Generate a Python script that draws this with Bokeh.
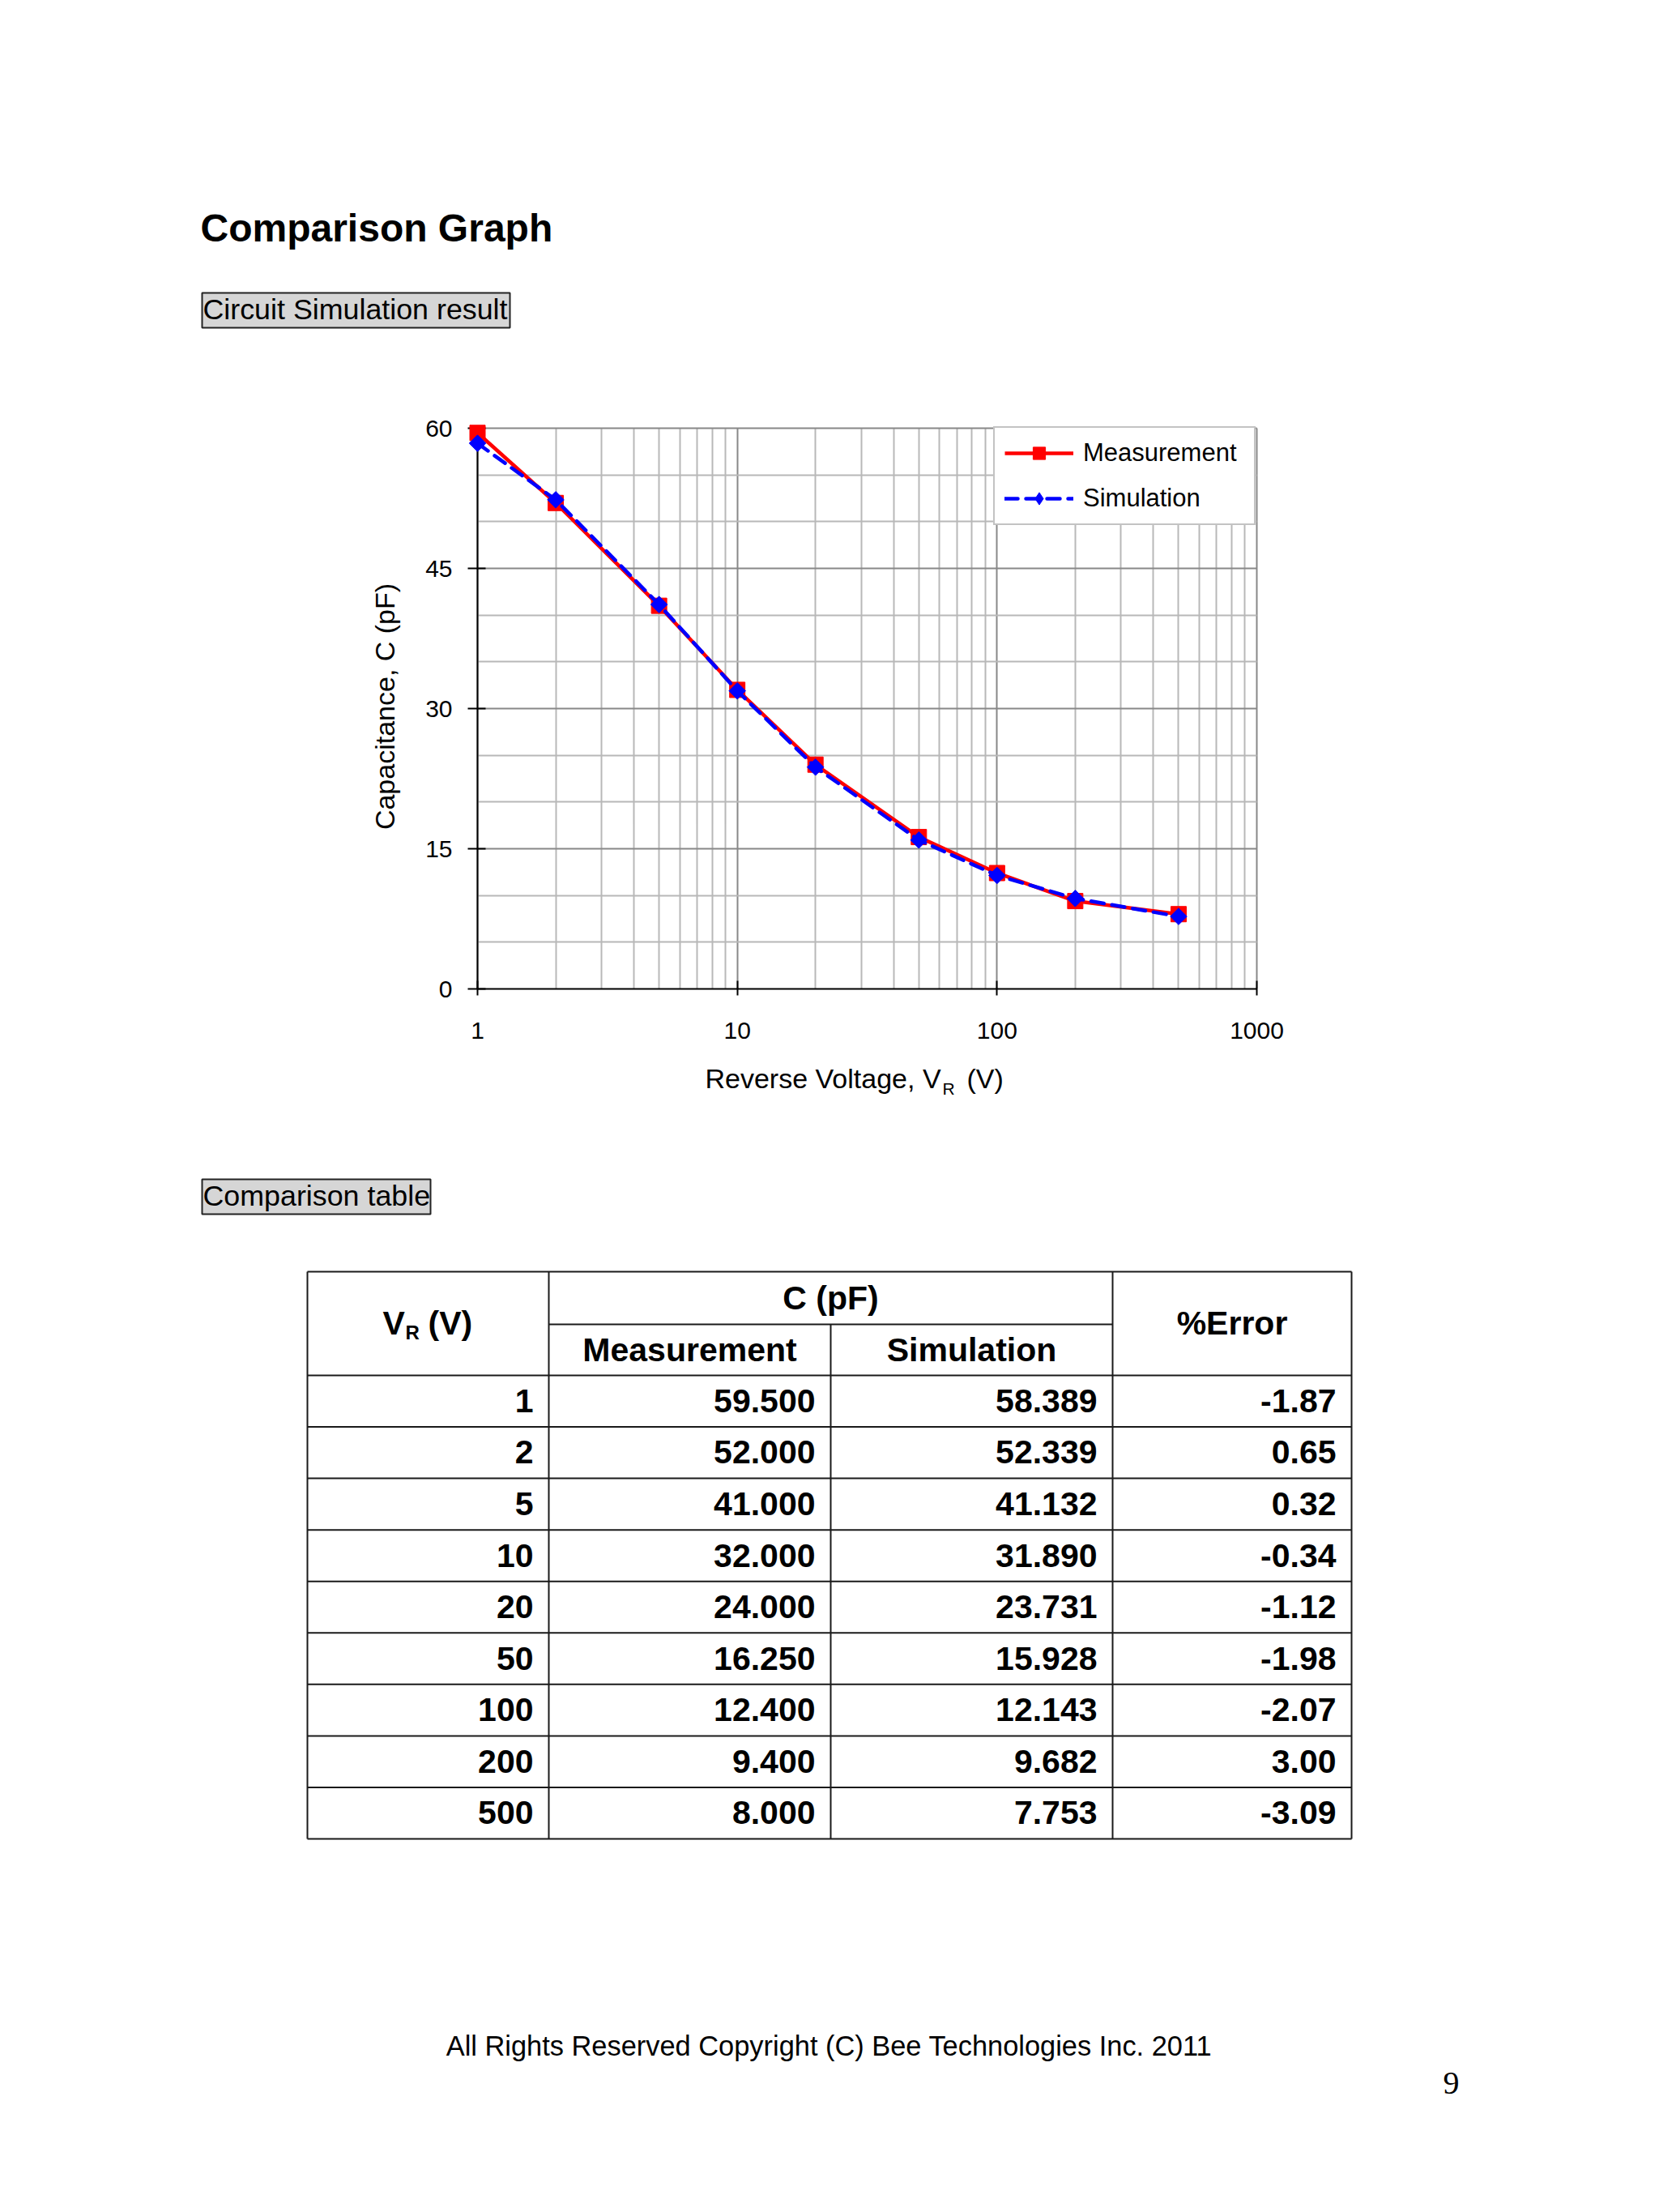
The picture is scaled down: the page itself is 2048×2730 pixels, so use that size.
import math
from bokeh.plotting import figure
from bokeh.models import (ColumnDataSource, Range1d, FixedTicker, NumeralTickFormatter,
                          Legend, LegendItem, Grid, Plot)
from bokeh.layouts import column
from bokeh.core.properties import value
from bokeh.embed import file_html
from bokeh.resources import INLINE

# ---------------- data ----------------
VR = [1, 2, 5, 10, 20, 50, 100, 200, 500]
MEAS = [59.5, 52.0, 41.0, 32.0, 24.0, 16.25, 12.4, 9.4, 8.0]
SIM = [58.389, 52.339, 41.132, 31.890, 23.731, 15.928, 12.143, 9.682, 7.753]
ERR = [-1.87, 0.65, 0.32, -0.34, -1.12, -1.98, -2.07, 3.00, -3.09]
SERIES = ["Measurement", "Simulation"]
X_TICKS = [1, 10, 100, 1000]
X_MINOR = [m * 10 ** e for e in range(3) for m in range(2, 10)]
Y_TICKS = [0, 15, 30, 45, 60]
Y_MINOR = [5, 10, 20, 25, 35, 40, 50, 55]
TITLE = "Comparison Graph"
SECTION1 = "Circuit Simulation result"
SECTION2 = "Comparison table"
Y_LABEL = "Capacitance, C (pF)"
X_LABEL = ["Reverse Voltage, V", "R", "(V)"]
TABLE_GROUP = "C (pF)"
TABLE_SUB = ["Measurement", "Simulation"]
TABLE_ERR = "%Error"
FOOTER = "All Rights Reserved Copyright (C) Bee Technologies Inc. 2011"
PAGE_NO = "9"

# ---------------- layout constants (page pixel coords) ----------------
W = 2040
OX = 0
SANS = "Liberation Sans"
SERIF = "Liberation Serif"
TOP_Y0, TOP_Y1 = 0, 470
CH_Y0, CH_Y1 = 470, 1300
BOT_Y0, BOT_Y1 = 1300, 2722
FR_L, FR_R, FR_T, FR_B = 589, 1551, 528, 1220   # x=1, x=1000, y=60, y=0
BASE_SHIFT = 0.35   # em correction so that the given y is the alphabetic baseline

HAS_CB = "cross_bounds" in Grid.properties()
HAS_FA = "frame_align" in Plot.properties()
PAD_L, PAD_R, PAD_T = (12, 2, 5) if HAS_CB else (0, 0, 0)
DEC = (FR_R - FR_L) / 3.0
PPU = (FR_B - FR_T) / 60.0


def no_align(p):
    if HAS_FA:
        p.frame_align = False
    return p


def page_fig(y0, y1):
    p = figure(width=W, height=y1 - y0, x_range=Range1d(OX, OX + W), y_range=Range1d(y1, y0),
               x_axis_location=None, y_axis_location=None, toolbar_location=None,
               output_backend="svg", min_border=0)
    p.grid.grid_line_color = None
    p.outline_line_color = None
    p.background_fill_color = "white"
    p.border_fill_color = "white"
    return no_align(p)


def txt(p, x, y, t, size, style="normal", align="left", font=SANS):
    s = float(size)
    yy = [v - BASE_SHIFT * s for v in y]
    p.text(x=x, y=yy, text=t, text_font=value(font), text_font_size=value("%gpx" % s),
           text_font_style=style, text_align=align, text_baseline="alphabetic",
           text_color="black")


# ---------------- top: headings ----------------
top = page_fig(TOP_Y0, TOP_Y1)
txt(top, [247], [298], [TITLE], 48, "bold")
top.quad(left=[249], right=[629], top=[361], bottom=[404], fill_color="#d6d6d6",
         line_color="#222222", line_width=2)
txt(top, [250], [394], [SECTION1], 35.8)

# ---------------- chart ----------------
src = ColumnDataSource(data=dict(vr=VR, meas=MEAS, sim=SIM))
x_start = 10 ** (-PAD_L / DEC)
x_end = 1000 * 10 ** (PAD_R / DEC)
y_end = 60 + PAD_T / PPU

c = figure(width=W, height=CH_Y1 - CH_Y0, x_axis_type="log",
           x_range=Range1d(x_start, x_end), y_range=Range1d(0, y_end),
           toolbar_location=None, output_backend="svg",
           min_border_left=FR_L - PAD_L - OX, min_border_right=OX + W - (FR_R + PAD_R),
           min_border_top=FR_T - PAD_T - CH_Y0, min_border_bottom=CH_Y1 - FR_B)
no_align(c)
c.background_fill_color = "white"
c.border_fill_color = "white"
c.outline_line_color = None if HAS_CB else "#888888"
c.outline_line_width = 2

xt = FixedTicker(ticks=X_TICKS, minor_ticks=X_MINOR)
yt = FixedTicker(ticks=Y_TICKS, minor_ticks=Y_MINOR)
c.xaxis.ticker = xt
c.yaxis.ticker = yt
c.xgrid.ticker = xt
c.ygrid.ticker = yt
c.xaxis.formatter = NumeralTickFormatter(format="0")
c.xaxis.bounds = (1, 1000)
c.yaxis.bounds = (0, 60)
if HAS_CB:
    c.xgrid.cross_bounds = (0, 60)
    c.ygrid.cross_bounds = (1, 1000)

for g in (c.xgrid, c.ygrid):
    g.grid_line_color = "#888888"
    g.grid_line_width = 2
    g.minor_grid_line_color = "#b8b8b8"
    g.minor_grid_line_width = 2

for ax in (c.xaxis, c.yaxis):
    ax.axis_line_color = "black"
    ax.axis_line_width = 2
    ax.major_tick_line_color = "black"
    ax.major_tick_line_width = 2
    ax.minor_tick_line_color = None
    ax.major_label_text_font = SANS
    ax.major_label_text_font_size = "30px"
    ax.major_label_text_color = "black"
c.xaxis.major_tick_in = 10
c.xaxis.major_tick_out = 8
c.xaxis.major_label_standoff = 33
if HAS_CB:
    # axis sits at the frame edge; the black line at x=1 is drawn below
    c.yaxis.axis_line_color = None
    c.yaxis.major_tick_in = 10 + PAD_L
    c.yaxis.major_tick_out = 0
    c.yaxis.major_label_standoff = 15
else:
    c.yaxis.major_tick_in = 10
    c.yaxis.major_tick_out = 10
    c.yaxis.major_label_standoff = 16
c.yaxis.axis_label = Y_LABEL
c.yaxis.axis_label_text_font = SANS
c.yaxis.axis_label_text_font_size = "34px"
c.yaxis.axis_label_text_font_style = "normal"
c.yaxis.axis_label_text_color = "black"
c.yaxis.axis_label_standoff = 28

if HAS_CB:
    c.segment(x0=[X_TICKS[0]], y0=[Y_TICKS[0]], x1=[X_TICKS[0]], y1=[Y_TICKS[-1]],
              line_color="black", line_width=2)

r_ml = c.line("vr", "meas", source=src, line_color="#ff0000", line_width=4.5)
r_ms = c.scatter("vr", "meas", source=src, marker="square", size=19,
                 fill_color="#ff0000", line_color="#ff0000")
r_sl = c.line("vr", "sim", source=src, line_color="#0000ff", line_width=4.5,
              line_dash="16 10", line_cap="round")
r_ss = c.scatter("vr", "sim", source=src, marker="square", angle=math.pi / 4, size=14.5,
                 fill_color="#0000ff", line_color="#0000ff")
for r in (r_ml, r_ms, r_sl, r_ss):
    r.level = "overlay"
# legend-only diamond (legend glyphs ignore the marker angle); hidden in the plot
r_sd = c.scatter("vr", "sim", source=src, marker="diamond", size=23,
                 fill_color="#0000ff", line_color="#0000ff", visible=False)

leg = Legend(items=[LegendItem(label=SERIES[0], renderers=[r_ml, r_ms]),
                    LegendItem(label=SERIES[1], renderers=[r_sl, r_sd])],
             location="top_right", margin=3, padding=12, spacing=18,
             glyph_width=85, glyph_height=38, label_height=38, label_width=199,
             label_standoff=12, label_text_font=SANS, label_text_font_size="31px",
             label_text_color="black", border_line_color="#888888", border_line_width=2,
             background_fill_color="white", background_fill_alpha=1.0,
             inactive_fill_alpha=0.0)
c.add_layout(leg)

# ---------------- bottom: x label, table, footer ----------------
bot = page_fig(BOT_Y0, BOT_Y1)
txt(bot, [870], [1342], [X_LABEL[0]], 34)
txt(bot, [1163], [1350], [X_LABEL[1]], 21)
txt(bot, [1193], [1342], [X_LABEL[2]], 34)

bot.quad(left=[249], right=[531], top=[1455], bottom=[1498], fill_color="#d6d6d6",
         line_color="#222222", line_width=2)
txt(bot, [250], [1488], [SECTION2], 35.8)

COL_X = [379, 677, 1025, 1373, 1668]
T_TOP, T_SUB, T_HDR = 1569, 1634, 1697
T_BOT = 2269
RH = (T_BOT - T_HDR) / len(VR)
row_lines = [T_HDR + i * RH for i in range(len(VR) + 1)]

hx0 = [COL_X[0]] * (len(row_lines) + 1) + [COL_X[1]]
hx1 = [COL_X[4]] * (len(row_lines) + 1) + [COL_X[3]]
hy = [T_TOP] + row_lines + [T_SUB]
bot.segment(x0=hx0, y0=hy, x1=hx1, y1=hy, line_color="#1a1a1a", line_width=2)
vx = [COL_X[0], COL_X[1], COL_X[3], COL_X[4], COL_X[2]]
vy0 = [T_TOP, T_TOP, T_TOP, T_TOP, T_SUB]
vy1 = [T_BOT] * 5
bot.segment(x0=vx, y0=vy0, x1=vx, y1=vy1, line_color="#1a1a1a", line_width=2)

# header
TF = 41
txt(bot, [(COL_X[1] + COL_X[3]) / 2], [1616], [TABLE_GROUP], TF, "bold", "center")
txt(bot, [(COL_X[1] + COL_X[2]) / 2, (COL_X[2] + COL_X[3]) / 2], [1680, 1680],
    TABLE_SUB, TF, "bold", "center")
txt(bot, [(COL_X[3] + COL_X[4]) / 2], [1647], [TABLE_ERR], TF, "bold", "center")
vc = (COL_X[0] + COL_X[1]) / 2 - 56
txt(bot, [vc], [1647], ["V"], TF, "bold")
txt(bot, [vc + 28], [1652], ["R"], 24, "bold")
txt(bot, [vc + 56], [1647], ["(V)"], TF, "bold")

# body
base = [T_HDR + (i + 0.5) * RH + 14 for i in range(len(VR))]
cols = [[str(v) for v in VR], ["%.3f" % v for v in MEAS],
        ["%.3f" % v for v in SIM], ["%.2f" % v for v in ERR]]
for j, col in enumerate(cols):
    txt(bot, [COL_X[j + 1] - 19] * len(col), base, col, TF, "bold", "right")

txt(bot, [1023], [2537], [FOOTER], 34.4, "normal", "center")
txt(bot, [1781], [2584], [PAGE_NO], 40, "normal", "left", SERIF)

page = column(top, c, bot, spacing=0)
open("out.html", "w").write(file_html(page, INLINE))
